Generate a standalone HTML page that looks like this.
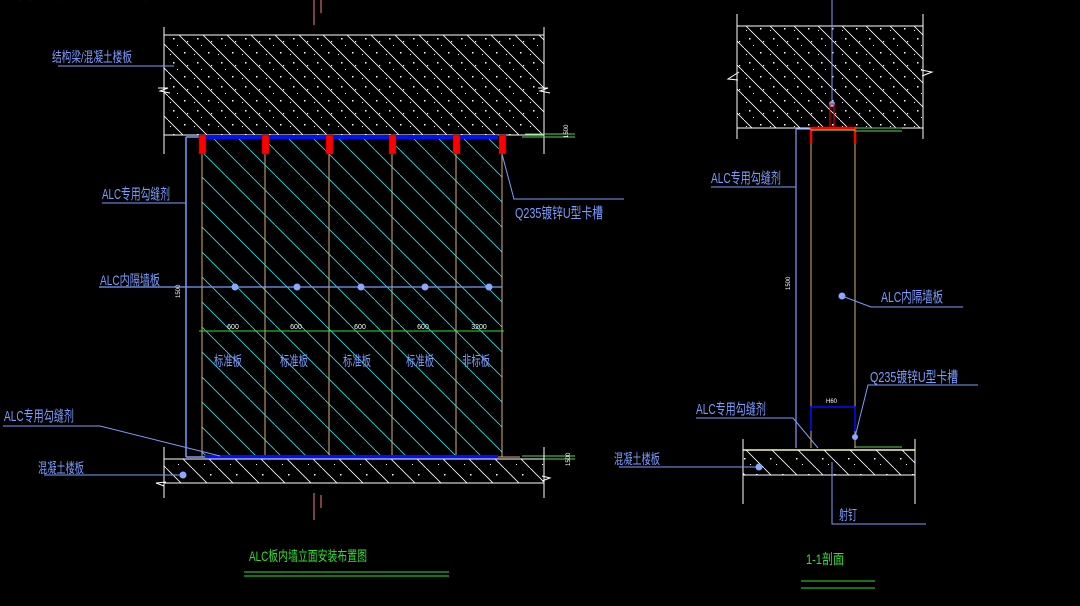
<!DOCTYPE html>
<html><head><meta charset="utf-8"><style>
html,body{margin:0;padding:0;background:#000;width:1080px;height:606px;overflow:hidden}
svg{display:block}
text{font-family:"Liberation Sans","Noto Sans CJK SC",sans-serif}
</style></head><body>
<svg width="1080" height="606" viewBox="0 0 1080 606" xmlns="http://www.w3.org/2000/svg">
<defs>
<pattern id="conc" patternUnits="userSpaceOnUse" width="24" height="24">
<line x1="0" y1="0" x2="24" y2="24" stroke="#fff" stroke-width="0.8"/>
<rect x="5" y="14" width="1.5" height="1.5" fill="#fff"/>
<rect x="16" y="4" width="1.5" height="1.5" fill="#fff"/>
<rect x="19" y="17" width="1.2" height="1.2" fill="#fff"/>
<rect x="9" y="21" width="1" height="1" fill="#fff"/>
<rect x="2" y="6" width="1" height="1" fill="#fff"/>
</pattern>
<pattern id="conc2" patternUnits="userSpaceOnUse" width="26" height="26" patternTransform="translate(10,0)">
<line x1="0" y1="0" x2="26" y2="26" stroke="#fff" stroke-width="0.8"/>
<rect x="6" y="16" width="1.5" height="1.5" fill="#fff"/>
<rect x="18" y="6" width="1.5" height="1.5" fill="#fff"/>
<rect x="12" y="22" width="1" height="1" fill="#fff"/>
</pattern>
<pattern id="cyan" patternUnits="userSpaceOnUse" width="25" height="25">
<line x1="0" y1="0" x2="25" y2="25" stroke="#2fe0e8" stroke-width="0.8"/>
</pattern>
</defs>

<text x="0" y="-1" fill="#e00" font-size="14">门 面   砌 块 内 墙 施 工 图</text>

<line x1="314" y1="0" x2="314" y2="25" stroke="#f08080" stroke-width="1"/>
<line x1="321" y1="0" x2="321" y2="13" stroke="#f08080" stroke-width="1"/>
<line x1="314" y1="493" x2="314" y2="520" stroke="#f08080" stroke-width="1"/>
<line x1="321" y1="495" x2="321" y2="508" stroke="#f08080" stroke-width="1"/>

<rect x="164" y="35" width="380" height="100" fill="url(#conc)" stroke="#fff" stroke-width="1"/>
<line x1="164" y1="27" x2="164" y2="154" stroke="#fff"/>
<line x1="544" y1="27" x2="544" y2="154" stroke="#fff"/>
<polyline points="158,88 168,88 160,91 170,93" stroke="#fff" fill="none"/>
<polyline points="538,88 548,88 540,91 550,93" stroke="#fff" fill="none"/>

<rect x="202" y="137" width="300" height="320" fill="url(#cyan)"/>
<g stroke="#d8b070" stroke-width="1">
<line x1="202" y1="154" x2="202" y2="457"/><line x1="265" y1="154" x2="265" y2="457"/>
<line x1="329" y1="154" x2="329" y2="457"/><line x1="392" y1="154" x2="392" y2="457"/>
<line x1="456" y1="154" x2="456" y2="457"/><line x1="502" y1="154" x2="502" y2="457"/>
</g>
<line x1="186" y1="137" x2="186" y2="457" stroke="#7a9cff" stroke-width="1.5"/>
<line x1="186" y1="137" x2="205" y2="137" stroke="#7a9cff" stroke-width="1.5"/>
<line x1="205" y1="137" x2="498" y2="137" stroke="#0010ff" stroke-width="4"/>
<g fill="#f00" stroke="#800" stroke-width="0.5">
<rect x="199" y="135" width="7" height="19"/><rect x="262" y="135" width="7" height="19"/>
<rect x="326" y="135" width="7" height="19"/><rect x="389" y="135" width="7" height="19"/>
<rect x="453" y="135" width="7" height="19"/><rect x="499" y="135" width="7" height="19"/>
</g>
<line x1="522" y1="137" x2="575" y2="137" stroke="#60d060"/>
<line x1="525" y1="134" x2="575" y2="134" stroke="#60d060"/>
<text x="568" y="138" fill="#fff" font-size="6" transform="rotate(-90 568 138)">1500</text>

<line x1="99" y1="287" x2="502" y2="287" stroke="#7a9cff" stroke-width="1.2"/>
<g fill="#8aa8ff"><circle cx="235" cy="287" r="3.5"/><circle cx="297" cy="287" r="3.5"/><circle cx="361" cy="287" r="3.5"/><circle cx="425" cy="287" r="3.5"/><circle cx="489" cy="287" r="3.5"/></g>
<text x="100" y="285" fill="#7a9cff" font-size="14" textLength="60" lengthAdjust="spacingAndGlyphs">ALC内隔墙板</text>
<text x="180" y="298" fill="#fff" font-size="6" transform="rotate(-90 180 298)">1500</text>

<line x1="199" y1="331" x2="504" y2="331" stroke="#30e030" stroke-width="1"/>
<g fill="#fff" font-size="7" text-anchor="middle">
<text x="233" y="329">600</text><text x="296" y="329">600</text><text x="360" y="329">600</text><text x="423" y="329">600</text><text x="479" y="329">3200</text></g>
<g fill="#7a9cff" font-size="14" text-anchor="middle">
<text x="228" y="366" textLength="28" lengthAdjust="spacingAndGlyphs">标准板</text>
<text x="294" y="366" textLength="28" lengthAdjust="spacingAndGlyphs">标准板</text>
<text x="357" y="366" textLength="28" lengthAdjust="spacingAndGlyphs">标准板</text>
<text x="420" y="366" textLength="28" lengthAdjust="spacingAndGlyphs">标准板</text>
<text x="476" y="366" textLength="28" lengthAdjust="spacingAndGlyphs">非标板</text></g>

<line x1="186" y1="457" x2="205" y2="457" stroke="#7a9cff" stroke-width="1.5"/>
<line x1="205" y1="457" x2="498" y2="457" stroke="#0010ff" stroke-width="4"/>
<line x1="498" y1="457" x2="520" y2="457" stroke="#d8b070"/>
<line x1="522" y1="456" x2="575" y2="456" stroke="#60d060"/>
<line x1="522" y1="459" x2="575" y2="459" stroke="#60d060"/>
<text x="570" y="466" fill="#fff" font-size="6" transform="rotate(-90 570 466)">1500</text>
<rect x="164" y="459" width="380" height="24" fill="url(#conc2)" stroke="#fff"/>
<line x1="164" y1="447" x2="164" y2="498" stroke="#fff"/>
<line x1="544" y1="447" x2="544" y2="498" stroke="#fff"/>
<polyline points="166,482 156,483 164,486" stroke="#fff" fill="none"/>
<polyline points="542,476 550,478 542,481" stroke="#fff" fill="none"/>

<text x="52" y="62" fill="#7a9cff" font-size="14" textLength="80" lengthAdjust="spacingAndGlyphs">结构梁/混凝土楼板</text>
<line x1="58" y1="66" x2="174" y2="66" stroke="#7a9cff"/>
<text x="102" y="199" fill="#7a9cff" font-size="15" textLength="68" lengthAdjust="spacingAndGlyphs">ALC专用勾缝剂</text>
<polyline points="102,203 186,203 186,200" stroke="#7a9cff" fill="none"/>
<text x="515" y="218" fill="#7a9cff" font-size="15" textLength="88" lengthAdjust="spacingAndGlyphs">Q235镀锌U型卡槽</text>
<polyline points="502,154 514,199 624,199" stroke="#7a9cff" fill="none"/>
<text x="4" y="421" fill="#7a9cff" font-size="15" textLength="70" lengthAdjust="spacingAndGlyphs">ALC专用勾缝剂</text>
<polyline points="3,426 100,426 220,456" stroke="#7a9cff" fill="none"/>
<text x="38" y="473" fill="#7a9cff" font-size="14" textLength="46" lengthAdjust="spacingAndGlyphs">混凝土楼板</text>
<line x1="44" y1="475" x2="183" y2="475" stroke="#7a9cff"/>
<circle cx="183" cy="475" r="3.5" fill="#8aa8ff"/>

<text x="249" y="561" fill="#30e030" font-size="14" textLength="118" lengthAdjust="spacingAndGlyphs">ALC板内墙立面安装布置图</text>
<line x1="244" y1="572" x2="449" y2="572" stroke="#30e030"/>
<line x1="244" y1="576" x2="449" y2="576" stroke="#30e030"/>

<rect x="737" y="26" width="186" height="102" fill="url(#conc)" stroke="#fff"/>
<line x1="737" y1="14" x2="737" y2="139" stroke="#fff"/>
<line x1="923" y1="14" x2="923" y2="139" stroke="#fff"/>
<polyline points="739,72 728,79 738,80" stroke="#fff" fill="none"/>
<polyline points="921,70 932,72 922,76" stroke="#fff" fill="none"/>
<line x1="832" y1="0" x2="832" y2="104" stroke="#7a9cff"/>
<circle cx="832" cy="104" r="3" fill="#8aa8ff"/>
<rect x="830" y="104" width="4" height="24" fill="none" stroke="#f00" stroke-width="1"/>
<polyline points="811,144 811,128 855,128 855,144" stroke="#f00" stroke-width="2.5" fill="none"/>
<line x1="811" y1="130" x2="855" y2="130" stroke="#ee0" stroke-width="1"/>
<line x1="855" y1="128" x2="902" y2="128" stroke="#60d060"/>
<line x1="855" y1="131" x2="902" y2="131" stroke="#60d060"/>
<line x1="811" y1="144" x2="811" y2="448" stroke="#d8b070"/>
<line x1="855" y1="144" x2="855" y2="448" stroke="#d8b070"/>
<line x1="796" y1="129" x2="796" y2="448" stroke="#7a9cff" stroke-width="1.2"/>
<line x1="796" y1="129" x2="811" y2="129" stroke="#7a9cff" stroke-width="1.2"/>
<text x="790" y="290" fill="#fff" font-size="6" transform="rotate(-90 790 290)">1500</text>
<text x="711" y="183" fill="#7a9cff" font-size="15" textLength="70" lengthAdjust="spacingAndGlyphs">ALC专用勾缝剂</text>
<polyline points="711,187 796,187" stroke="#7a9cff" fill="none"/>
<circle cx="842" cy="296" r="3.5" fill="#8aa8ff"/>
<polyline points="842,296 871,307 963,307" stroke="#7a9cff" fill="none"/>
<text x="881" y="302" fill="#7a9cff" font-size="15" textLength="62" lengthAdjust="spacingAndGlyphs">ALC内隔墙板</text>
<text x="870" y="382" fill="#7a9cff" font-size="15" textLength="88" lengthAdjust="spacingAndGlyphs">Q235镀锌U型卡槽</text>
<polyline points="855,437 868,385 978,385" stroke="#7a9cff" fill="none"/>
<circle cx="855" cy="437" r="3" fill="#8aa8ff"/>
<polyline points="811,431 811,407 855,407 855,431" stroke="#0010ff" stroke-width="1.5" fill="none"/>
<text x="826" y="403" fill="#fff" font-size="6">H60</text>
<text x="696" y="414" fill="#7a9cff" font-size="15" textLength="70" lengthAdjust="spacingAndGlyphs">ALC专用勾缝剂</text>
<polyline points="696,418 793,418 818,448" stroke="#7a9cff" fill="none"/>
<line x1="743" y1="450" x2="915" y2="450" stroke="#ee0" stroke-width="1.5"/>
<line x1="855" y1="447" x2="902" y2="447" stroke="#60d060"/>
<rect x="743" y="450" width="172" height="25" fill="url(#conc2)" stroke="#fff"/>
<line x1="743" y1="439" x2="743" y2="504" stroke="#fff"/>
<line x1="915" y1="439" x2="915" y2="504" stroke="#fff"/>
<text x="614" y="464" fill="#7a9cff" font-size="14" textLength="46" lengthAdjust="spacingAndGlyphs">混凝土楼板</text>
<line x1="619" y1="467" x2="759" y2="467" stroke="#7a9cff"/>
<circle cx="759" cy="467" r="3.5" fill="#8aa8ff"/>
<polyline points="832,462 832,524 926,524" stroke="#7a9cff" fill="none"/>
<text x="839" y="520" fill="#7a9cff" font-size="14" textLength="18" lengthAdjust="spacingAndGlyphs">射钉</text>
<text x="806" y="564" fill="#30e030" font-size="14" textLength="38" lengthAdjust="spacingAndGlyphs">1-1剖面</text>
<line x1="801" y1="581" x2="875" y2="581" stroke="#30e030"/>
<line x1="801" y1="588" x2="875" y2="588" stroke="#30e030"/>
</svg>
</body></html>
